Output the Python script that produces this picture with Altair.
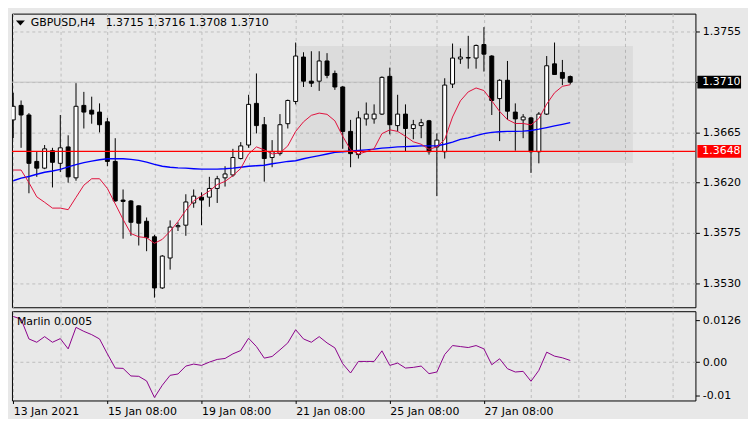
import json
import altair as alt
import pandas as pd

# ---------------- data ----------------
header_text = "GBPUSD,H4\u00a0\u00a0 1.3715 1.3716 1.3708 1.3710"
indicator_name = "Marlin 0.0005"
date_labels = ["13 Jan 2021", "15 Jan 08:00", "19 Jan 08:00",
               "21 Jan 08:00", "25 Jan 08:00", "27 Jan 08:00"]
price_ticks = [1.3755, 1.3710, 1.3665, 1.3620, 1.3575, 1.3530]
marlin_ticks = [0.0126, 0.0, -0.01]
marlin_tick_labels = ["0.0126", "0.00", "-0.01"]
current_price = [1.3710]
current_label = ["1.3710"]
level_price = [1.3648]
level_label = ["1.3648"]
zone_index = [36, 79]
zone_price = [1.36377, 1.37423]

opens = [1.36762, 1.36892, 1.36806, 1.36390, 1.36330, 1.36486, 1.36373, 1.36520, 1.36243, 1.36892,
         1.36849, 1.36832, 1.36745, 1.36390, 1.36044, 1.36036, 1.35992, 1.35854, 1.35715, 1.35257,
         1.35525, 1.35805, 1.35819, 1.36018, 1.36070, 1.36070, 1.36148, 1.36243, 1.36269, 1.36416,
         1.36537, 1.36910, 1.36719, 1.36425, 1.36460, 1.36728, 1.36927, 1.37325, 1.37109, 1.37109,
         1.37290, 1.37178, 1.37057, 1.36659, 1.36451, 1.36771, 1.36771, 1.36814, 1.37152, 1.36711,
         1.36814, 1.36685, 1.36711, 1.36754, 1.36520, 1.36477, 1.37083, 1.37308, 1.37316, 1.37316,
         1.37437, 1.37334, 1.36953, 1.37117, 1.36832, 1.36762, 1.36780, 1.36477, 1.36814, 1.37264,
         1.37187, 1.37150]
highs = [1.37005, 1.36936, 1.36823, 1.36477, 1.36537, 1.36512, 1.36806, 1.36624, 1.37091, 1.37013,
         1.36970, 1.36910, 1.36780, 1.36598, 1.36139, 1.36044, 1.35996, 1.35888, 1.35733, 1.35551,
         1.35862, 1.35845, 1.36096, 1.36139, 1.36113, 1.36252, 1.36261, 1.36347, 1.36503, 1.36563,
         1.36987, 1.37178, 1.36788, 1.36581, 1.36814, 1.36944, 1.37455, 1.37368, 1.37377, 1.37377,
         1.37360, 1.37204, 1.37065, 1.36762, 1.36840, 1.36918, 1.36901, 1.37152, 1.37230, 1.36987,
         1.36901, 1.36762, 1.36771, 1.36762, 1.36641, 1.37135, 1.37446, 1.37403, 1.37515, 1.37437,
         1.37593, 1.37342, 1.37126, 1.37290, 1.36910, 1.36814, 1.36788, 1.36832, 1.37334, 1.37455,
         1.37299, 1.37160]
lows = [1.36598, 1.36512, 1.36105, 1.36252, 1.36321, 1.36157, 1.36295, 1.36200, 1.36217, 1.36685,
        1.36728, 1.36650, 1.36347, 1.36030, 1.35698, 1.35724, 1.35637, 1.35586, 1.35170, 1.35248,
        1.35421, 1.35767, 1.35724, 1.35975, 1.35819, 1.35984, 1.36018, 1.36165, 1.36252, 1.36408,
        1.36512, 1.36641, 1.36209, 1.36338, 1.36442, 1.36685, 1.36901, 1.37057, 1.37057, 1.37022,
        1.37135, 1.37031, 1.36503, 1.36338, 1.36416, 1.36711, 1.36728, 1.36806, 1.36633, 1.36659,
        1.36477, 1.36589, 1.36598, 1.36451, 1.36079, 1.36416, 1.37048, 1.37264, 1.37221, 1.37221,
        1.37195, 1.36806, 1.36572, 1.36762, 1.36486, 1.36598, 1.36287, 1.36373, 1.36806, 1.37169,
        1.37074, 1.37080]
closes = [1.36884, 1.36806, 1.36373, 1.36330, 1.36503, 1.36382, 1.36512, 1.36252, 1.36884, 1.36832,
          1.36814, 1.36719, 1.36390, 1.36036, 1.36032, 1.35845, 1.35837, 1.35707, 1.35257, 1.35542,
          1.35802, 1.35815, 1.36027, 1.36079, 1.36044, 1.36148, 1.36235, 1.36278, 1.36425, 1.36529,
          1.36901, 1.36711, 1.36416, 1.36477, 1.36719, 1.36936, 1.37334, 1.37109, 1.37091, 1.37290,
          1.37161, 1.37057, 1.36659, 1.36460, 1.36780, 1.36814, 1.36814, 1.37143, 1.36719, 1.36814,
          1.36685, 1.36719, 1.36737, 1.36477, 1.36581, 1.37074, 1.37316, 1.37325, 1.37321, 1.37429,
          1.37351, 1.36936, 1.37117, 1.36840, 1.36771, 1.36788, 1.36477, 1.36814, 1.37247, 1.37169,
          1.37135, 1.37100]
ma_fast = [1.36313, 1.36313, 1.36200, 1.36073, 1.36024, 1.35972, 1.35972, 1.35958, 1.36068, 1.36177,
           1.36235, 1.36235, 1.36148, 1.36010, 1.35871, 1.35744, 1.35715, 1.35707, 1.35657, 1.35692,
           1.35765, 1.35851, 1.35952, 1.36038, 1.36081, 1.36125, 1.36183, 1.36211, 1.36263, 1.36327,
           1.36457, 1.36520, 1.36494, 1.36457, 1.36466, 1.36529, 1.36659, 1.36745, 1.36803, 1.36823,
           1.36812, 1.36754, 1.36615, 1.36494, 1.36457, 1.36477, 1.36505, 1.36639, 1.36673, 1.36659,
           1.36615, 1.36566, 1.36544, 1.36499, 1.36520, 1.36587, 1.36788, 1.36933, 1.37013, 1.37048,
           1.37025, 1.36933, 1.36838, 1.36765, 1.36730, 1.36730, 1.36717, 1.36774, 1.36904, 1.37005,
           1.37063, 1.37077]
ma_slow = [1.36217, 1.36241, 1.36255, 1.36275, 1.36293, 1.36304, 1.36319, 1.36341, 1.36362, 1.36379,
           1.36393, 1.36405, 1.36414, 1.36414, 1.36414, 1.36408, 1.36399, 1.36384, 1.36364, 1.36347,
           1.36338, 1.36332, 1.36330, 1.36325, 1.36321, 1.36321, 1.36321, 1.36324, 1.36330, 1.36338,
           1.36347, 1.36351, 1.36356, 1.36369, 1.36379, 1.36390, 1.36396, 1.36414, 1.36428, 1.36442,
           1.36457, 1.36471, 1.36477, 1.36483, 1.36488, 1.36494, 1.36500, 1.36509, 1.36514, 1.36520,
           1.36523, 1.36526, 1.36529, 1.36529, 1.36531, 1.36544, 1.36563, 1.36587, 1.36601, 1.36621,
           1.36639, 1.36650, 1.36656, 1.36659, 1.36659, 1.36661, 1.36667, 1.36679, 1.36693, 1.36708,
           1.36722, 1.36737]
marlin = [0.0138, 0.0130, 0.0070, 0.0060, 0.0077, 0.0060, 0.0071, 0.0040, 0.0105, 0.0093,
          0.0083, 0.0070, 0.0025, -0.0018, -0.0019, -0.0042, -0.0043, -0.0057, -0.0107, -0.0070,
          -0.0040, -0.0036, -0.0012, -0.0006, -0.0010, 0.0000, 0.0008, 0.0011, 0.0025, 0.0035,
          0.0072, 0.0047, 0.0012, 0.0017, 0.0037, 0.0058, 0.0098, 0.0070, 0.0060, 0.0077,
          0.0058, 0.0043, -0.0005, -0.0033, 0.0002, 0.0002, 0.0002, 0.0034, -0.0010, -0.0003,
          -0.0018, -0.0016, -0.0012, -0.0035, -0.0030, 0.0023, 0.0050, 0.0047, 0.0044, 0.0050,
          0.0040, -0.0008, 0.0010, -0.0020, -0.0030, -0.0028, -0.0058, -0.0025, 0.0030, 0.0018,
          0.0013, 0.0005]

# ---------------- layout / style ----------------
W = 689
H_MAIN = 296
H_IND = 90
X_DOMAIN = [-0.1625, 86.96]
Y_DOMAIN = [1.35084, 1.37714]
M_DOMAIN = [-0.01161, 0.01539]
BG = "#e8e8e8"
GRID = "#bdbdbd"
FONT = "DejaVu Sans"

df = pd.DataFrame({
    "i": list(range(len(opens))),
    "open": opens, "high": highs, "low": lows, "close": closes,
    "ma_fast": ma_fast, "ma_slow": ma_slow, "marlin": marlin,
})
df["bull"] = df["close"] >= df["open"]

grid_vals = list(range(0, 85, 6))
xscale = alt.Scale(domain=X_DOMAIN, nice=False, zero=False, padding=0)
yscale = alt.Scale(domain=Y_DOMAIN, nice=False, zero=False, padding=0)
mscale = alt.Scale(domain=M_DOMAIN, nice=False, zero=False, padding=0)

x_axis_main = alt.Axis(values=grid_vals, labels=False, ticks=False, domain=False, title=None,
                       grid=True, gridDash=[3, 3], gridColor=GRID, gridWidth=1)
y_axis_main = alt.Axis(orient="right", values=price_ticks, format=".4f", title=None, domain=False,
                       grid=True, gridDash=[3, 3], gridColor=GRID, tickSize=4, tickColor="black",
                       labelPadding=3, labelFont=FONT, labelFontSize=11, labelColor="black",
                       labelOverlap=False, labelBound=False)


def X(field):
    return alt.X(field, type="quantitative", scale=xscale, axis=x_axis_main)


def Y(field):
    return alt.Y(field, type="quantitative", scale=yscale, axis=y_axis_main)


base = alt.Chart(df)

zone_df = pd.DataFrame({"x0": [zone_index[0]], "x1": [zone_index[1]],
                        "p0": [zone_price[0]], "p1": [zone_price[1]]})
zone = alt.Chart(zone_df).mark_rect(color="black", opacity=0.05).encode(
    x=X("x0"), x2="x1", y=Y("p0"), y2="p1")

cur_df = pd.DataFrame({"p": current_price, "t": current_label})
lvl_df = pd.DataFrame({"p": level_price, "t": level_label})

cur_line = alt.Chart(cur_df).mark_rule(color="#c0c0c0", strokeWidth=1).encode(y=Y("p"))
lvl_line = alt.Chart(lvl_df).mark_rule(color="#ff0000", strokeWidth=1.4).encode(y=Y("p"))

slow = base.mark_line(color="#0000ff", strokeWidth=1.4, clip=True).encode(x=X("i"), y=Y("ma_slow"))
fast = base.mark_line(color="#e0103c", strokeWidth=1, clip=True).encode(x=X("i"), y=Y("ma_fast"))

wicks = base.mark_rule(color="black", strokeWidth=1, clip=True).encode(
    x=X("i"), y=Y("low"), y2="high")
bodies = base.mark_bar(size=4, stroke="black", strokeWidth=1, clip=True).encode(
    x=X("i"), y=Y("open"), y2="close",
    fill=alt.condition("datum.bull", alt.value("white"), alt.value("black")))

cur_box = alt.Chart(cur_df).mark_rule(color="black", strokeWidth=13, strokeCap="butt").encode(
    y=Y("p"), x=alt.value(W + 2), x2=alt.value(W + 46))
cur_txt = alt.Chart(cur_df).mark_text(color="white", align="left", baseline="middle",
                                      font=FONT, fontSize=11).encode(
    y=Y("p"), x=alt.value(W + 7), text="t:N")
lvl_box = alt.Chart(lvl_df).mark_rule(color="#ff0000", strokeWidth=13, strokeCap="butt").encode(
    y=Y("p"), x=alt.value(W + 2), x2=alt.value(W + 46))
lvl_txt = alt.Chart(lvl_df).mark_text(color="white", align="left", baseline="middle",
                                      font=FONT, fontSize=11).encode(
    y=Y("p"), x=alt.value(W + 7), text="t:N")

hdr_df = pd.DataFrame({"t": [header_text]})
header = alt.Chart(hdr_df).mark_text(align="left", baseline="middle", font=FONT, fontSize=11,
                                     color="black").encode(
    x=alt.value(19), y=alt.value(9.5), text="t:N")
tri = alt.Chart(hdr_df).mark_point(shape="M-1,-0.55L1,-0.55L0,0.55Z", size=81, filled=True,
                                   color="black", opacity=1).encode(
    x=alt.value(8.5), y=alt.value(9.5))

main = alt.layer(zone, cur_line, wicks, bodies, slow, fast, lvl_line,
                 cur_box, cur_txt, lvl_box, lvl_txt, header, tri).properties(
    width=W, height=H_MAIN)

# ---------------- indicator panel ----------------
label_expr = ("(datum.value % 12 == 0 && datum.value <= 60) ? "
              + json.dumps(date_labels) + "[datum.value / 12] : ''")
x_axis_ind = alt.Axis(values=grid_vals, labelExpr=label_expr, title=None, domain=False,
                      grid=True, gridDash=[3, 3], gridColor=GRID,
                      tickSize=3, tickColor="black",
                      tickOpacity={"condition": {"test": "datum.value % 12 == 0 && datum.value <= 60",
                                                 "value": 1}, "value": 0},
                      labelAlign="left", labelBaseline="top", labelPadding=2,
                      labelFont=FONT, labelFontSize=11, labelColor="black",
                      labelOverlap=False, labelBound=False, labelFlush=False)
m_label_expr = ("datum.value > 0.001 ? '" + marlin_tick_labels[0] + "' : (datum.value < -0.001 ? '"
                + marlin_tick_labels[2] + "' : '" + marlin_tick_labels[1] + "')")
y_axis_ind = alt.Axis(orient="right", values=marlin_ticks, labelExpr=m_label_expr, title=None,
                      domain=False, grid=True, gridDash=[3, 3], gridColor=GRID,
                      gridOpacity={"condition": {"test": "datum.value == 0", "value": 1}, "value": 0},
                      tickSize=4, tickColor="black", labelPadding=3,
                      labelFont=FONT, labelFontSize=11, labelColor="black",
                      labelOverlap=False, labelBound=False)

marlin_line = base.mark_line(color="#8b008b", strokeWidth=1, clip=True).encode(
    x=alt.X("i:Q", scale=xscale, axis=x_axis_ind),
    y=alt.Y("marlin:Q", scale=mscale, axis=y_axis_ind))
name_txt = alt.Chart(pd.DataFrame({"t": [indicator_name]})).mark_text(
    align="left", baseline="middle", font=FONT, fontSize=11, color="black").encode(
    x=alt.value(5), y=alt.value(11), text="t:N")

ind = alt.layer(marlin_line, name_txt).properties(width=W, height=H_IND)

chart = alt.vconcat(main, ind, spacing=2).properties(
    background=BG,
    padding={"left": 2, "top": 3, "right": 0, "bottom": 0},
).configure_view(
    stroke="black", strokeWidth=1, fill=BG
)

chart.save("out.html", embed_options={"renderer": "svg", "actions": False})
